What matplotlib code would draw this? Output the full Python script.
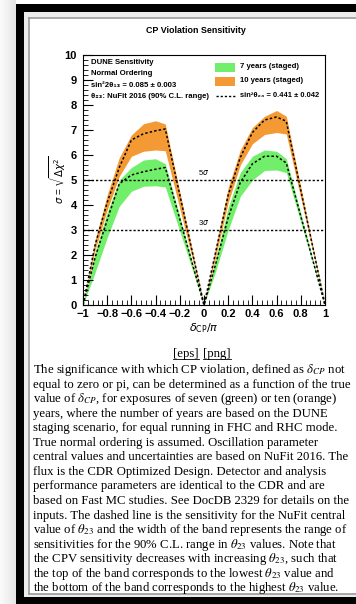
import numpy as np
import matplotlib.pyplot as plt
from matplotlib.patches import Rectangle
from matplotlib.ticker import MultipleLocator

plt.rcParams['font.family'] = ['Liberation Sans', 'DejaVu Sans']

# delta_CP/pi sample points
dcp = [-1.0, -0.9, -0.8, -0.7, -0.6, -0.5, -0.4, -0.32, 0.0,
       0.1, 0.2, 0.3, 0.4, 0.5, 0.6, 0.68, 1.0]

# 10 years (staged): band edges and NuFit central theta23
ten_hi = [0, 2.6, 4.4, 5.9, 6.8, 7.25, 7.37, 7.24, 0,
          2.4, 4.7, 6.2, 7.1, 7.55, 7.78, 7.55, 0]
ten_mid = [0, 2.4, 4.1, 5.5, 6.6, 6.85, 6.97, 7.04, 0,
           2.2, 4.4, 5.9, 6.9, 7.4, 7.52, 7.35, 0]
ten_lo = [0, 2.2, 3.8, 5.15, 5.95, 6.15, 6.2, 6.17, 0,
          2.0, 4.1, 5.6, 6.45, 6.82, 6.9, 6.84, 0]

# 7 years (staged)
sev_hi = [0, 2.1, 3.7, 5.0, 5.5, 5.8, 5.85, 5.65, 0,
          1.9, 3.9, 5.3, 5.95, 6.2, 6.15, 5.85, 0]
sev_mid = [0, 1.9, 3.4, 4.85, 5.2, 5.33, 5.43, 5.5, 0,
           1.7, 3.5, 4.9, 5.65, 5.95, 5.95, 5.68, 0]
sev_lo = [0, 1.3, 2.7, 3.95, 4.55, 4.75, 4.77, 4.72, 0,
          1.4, 3.0, 4.35, 5.0, 5.38, 5.4, 5.3, 0]

xtick_vals = [-1, -0.8, -0.6, -0.4, -0.2, 0, 0.2, 0.4, 0.6, 0.8, 1]
xtick_text = ['\u22121', '\u22120.8', '\u22120.6', '\u22120.4', '\u22120.2',
              '0', '0.2', '0.4', '0.6', '0.8', '1']
ytick_vals = list(range(0, 11))

caption = [
    r'The significance with which CP violation, defined as $\delta_{CP}$ not',
    r'equal to zero or pi, can be determined as a function of the true',
    r'value of $\delta_{CP}$, for exposures of seven (green) or ten (orange)',
    r'years, where the number of years are based on the DUNE',
    r'staging scenario, for equal running in FHC and RHC mode.',
    r'True normal ordering is assumed. Oscillation parameter',
    r'central values and uncertainties are based on NuFit 2016. The',
    r'flux is the CDR Optimized Design. Detector and analysis',
    r'performance parameters are identical to the CDR and are',
    r'based on Fast MC studies. See DocDB 2329 for details on the',
    r'inputs. The dashed line is the sensitivity for the NuFit central',
    r'value of $\theta_{23}$ and the width of the band represents the range of',
    r'sensitivities for the 90% C.L. range in $\theta_{23}$ values. Note that',
    r'the CPV sensitivity decreases with increasing $\theta_{23}$, such that',
    r'the top of the band corresponds to the lowest $\theta_{23}$ value and',
    r'the bottom of the band corresponds to the highest $\theta_{23}$ value.',
]

green = '#72ef6a'
orange = '#f49a35'
dots = (0, (1.6, 1.4))

W, H = 356, 604
fig = plt.figure(figsize=(W / 100, H / 100), dpi=100)

# page background, in pixel units
bg = fig.add_axes([0, 0, 1, 1])
bg.imshow(np.linspace(0.98, 0.90, 16)[None, :], cmap='gray', vmin=0, vmax=1,
          extent=(0, 16, H, 0), aspect='auto')
bg.add_patch(Rectangle((16, 4), W - 16, 8, color='black', lw=0))
bg.add_patch(Rectangle((16, 4), 8, H - 4, color='black', lw=0))
bg.add_patch(Rectangle((16, 597), W - 16, 7, color='black', lw=0))
bg.add_patch(Rectangle((24, 12), W - 24, 5, color='#ececec', lw=0))
bg.add_patch(Rectangle((24, 12), 4, 585, color='#ececec', lw=0))
bg.add_patch(Rectangle((24, 594), W - 24, 3, color='#ececec', lw=0))
bg.plot([28.5, W], [17.5, 17.5], color='#9a9a9a', lw=1.2)
bg.plot([28.5, 28.5], [17.5, 593.5], color='#9a9a9a', lw=1.2)
bg.plot([28.5, W], [593.5, 593.5], color='#9a9a9a', lw=1.2)
bg.set_xlim(0, W)
bg.set_ylim(H, 0)
bg.axis('off')

# sensitivity plot
ax = fig.add_axes([83 / W, 1 - 305 / H, (325 - 83) / W, (305 - 55) / H])
ax.set_facecolor('none')
ax.fill_between(dcp, sev_lo, sev_hi, color=green, lw=0)
ax.fill_between(dcp, ten_lo, ten_hi, color=orange, lw=0)
ax.plot(dcp, ten_mid, color='black', ls=dots, lw=1.1)
ax.plot(dcp, sev_mid, color='black', ls=dots, lw=1.1)
ax.axhline(5, color='black', ls=dots, lw=1.0)
ax.axhline(3, color='black', ls=dots, lw=1.0)
ax.text(0, 5.12, r'5$\sigma$', ha='center', va='bottom', fontsize=5.5)
ax.text(0, 3.12, r'3$\sigma$', ha='center', va='bottom', fontsize=5.5)

ax.set_xlim(-1, 1)
ax.set_ylim(0, 10)
ax.set_xticks(xtick_vals)
ax.set_xticklabels(xtick_text)
ax.set_yticks(ytick_vals)
ax.xaxis.set_minor_locator(MultipleLocator(0.04))
ax.yaxis.set_minor_locator(MultipleLocator(0.2))
ax.tick_params(which='both', direction='in', top=False, right=False)
ax.tick_params(which='major', length=7, width=0.8, labelsize=8, pad=3)
ax.tick_params(which='minor', length=3.5, width=0.6)
ax.tick_params(axis='y', pad=4.5)
for lab in ax.get_xticklabels() + ax.get_yticklabels():
    lab.set_fontweight('bold')
for sp in ax.spines.values():
    sp.set_linewidth(0.8)

# titles and axis labels
bg.text(196, 30.5, 'CP Violation Sensitivity', ha='center', va='center',
        fontsize=6.4, fontweight='bold')
bg.text(58, 180, r'$\sigma$ = $\sqrt{\Delta\chi^2}$', ha='center', va='center',
        rotation=90, fontsize=7.2)
bg.text(204, 328, r'$\delta_{\rm CP}/\pi$', ha='center', va='center', fontsize=8)

# info block
info = ['DUNE Sensitivity', 'Normal Ordering',
        'sin\u00b22\u03b8\u2081\u2083 = 0.085 \u00b1 0.003',
        '\u03b8\u2082\u2083: NuFit 2016 (90% C.L. range)']
for i, s in enumerate(info):
    bg.text(91, 62.5 + i * 11.3, s, ha='left', va='center', fontsize=5.6,
            fontweight='bold')

# legend
bg.add_patch(Rectangle((215, 62.5), 20, 9, color=green, lw=0))
bg.add_patch(Rectangle((215, 77), 20, 9, color=orange, lw=0))
bg.plot([216, 236], [95.5, 95.5], color='black', ls=dots, lw=1.0)
bg.text(240, 66.5, '7 years (staged)', ha='left', va='center', fontsize=5.6,
        fontweight='bold')
bg.text(240, 81, '10 years (staged)', ha='left', va='center', fontsize=5.6,
        fontweight='bold')
bg.text(240, 95.5, 'sin\u00b2\u03b8\u2082\u2083 = 0.441 \u00b1 0.042', ha='left',
        va='center', fontsize=5.4, fontweight='bold')

# caption
serif = ['Liberation Serif', 'DejaVu Serif']
links = [bg.text(173, 357.5, '[eps]', family=serif, fontsize=9.2),
         bg.text(203, 357.5, '[png]', family=serif, fontsize=9.2)]
for i, line in enumerate(caption):
    bg.text(33, 373 + i * 14.55, line, family=serif, fontsize=9.2,
            math_fontfamily='stix', va='baseline')

fig.canvas.draw()
r = fig.canvas.get_renderer()
inv = bg.transData.inverted()
for t in links:
    bb = t.get_window_extent(r).transformed(inv)
    bg.plot([bb.x0, bb.x1], [358.8, 358.8], color='black', lw=0.6)

fig.savefig('out.png', dpi=100)
